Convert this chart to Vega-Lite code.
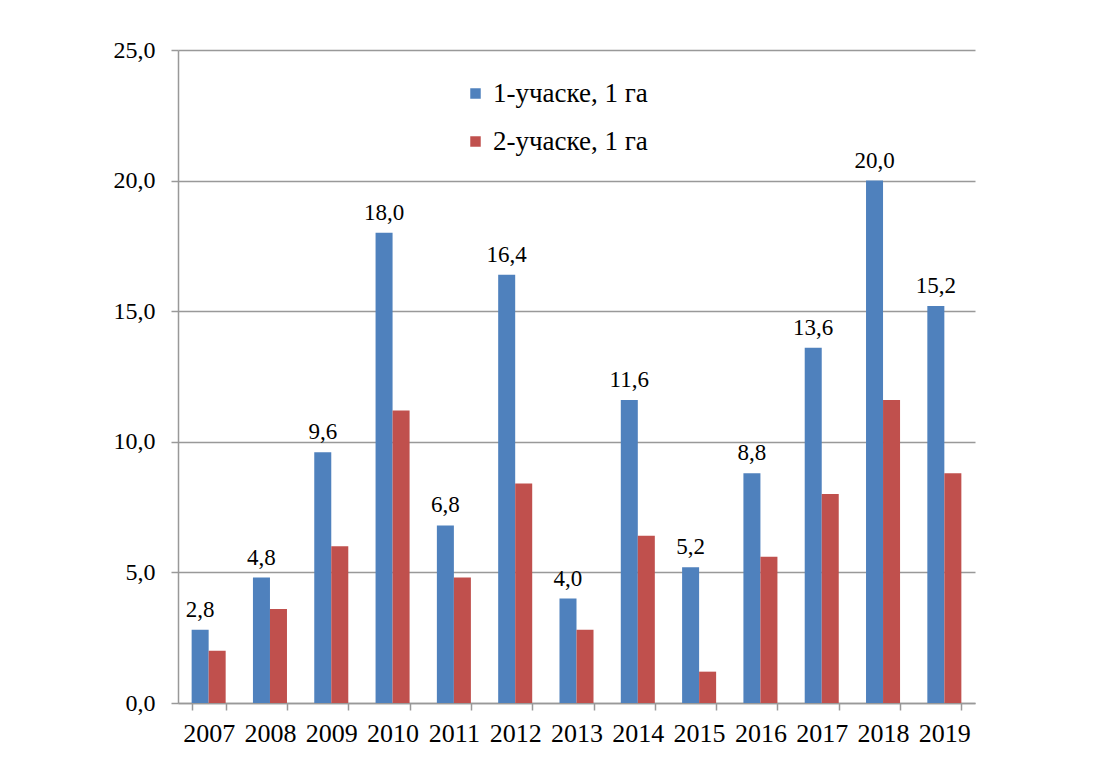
{
  "$schema": "https://vega.github.io/schema/vega-lite/v6.json",
  "width": 797,
  "height": 653,
  "autosize": {"type": "none"},
  "padding": {"left": 178, "top": 50, "right": 131, "bottom": 56},
  "background": "white",
  "config": {
    "locale": {"number": {"decimal": ",", "thousands": " ", "grouping": [3], "currency": ["", ""]}},
    "font": "Liberation Serif",
    "axis": {"labelFont": "Liberation Serif"},
    "legend": {"labelFont": "Liberation Serif"},
    "text": {"font": "Liberation Serif"},
    "view": {"stroke": null}
  },
  "data": {
    "values": [
      {"year": "2007", "series": "1-учаске, 1 га", "value": 2.8},
      {"year": "2007", "series": "2-учаске, 1 га", "value": 2.0},
      {"year": "2008", "series": "1-учаске, 1 га", "value": 4.8},
      {"year": "2008", "series": "2-учаске, 1 га", "value": 3.6},
      {"year": "2009", "series": "1-учаске, 1 га", "value": 9.6},
      {"year": "2009", "series": "2-учаске, 1 га", "value": 6.0},
      {"year": "2010", "series": "1-учаске, 1 га", "value": 18.0},
      {"year": "2010", "series": "2-учаске, 1 га", "value": 11.2},
      {"year": "2011", "series": "1-учаске, 1 га", "value": 6.8},
      {"year": "2011", "series": "2-учаске, 1 га", "value": 4.8},
      {"year": "2012", "series": "1-учаске, 1 га", "value": 16.4},
      {"year": "2012", "series": "2-учаске, 1 га", "value": 8.4},
      {"year": "2013", "series": "1-учаске, 1 га", "value": 4.0},
      {"year": "2013", "series": "2-учаске, 1 га", "value": 2.8},
      {"year": "2014", "series": "1-учаске, 1 га", "value": 11.6},
      {"year": "2014", "series": "2-учаске, 1 га", "value": 6.4},
      {"year": "2015", "series": "1-учаске, 1 га", "value": 5.2},
      {"year": "2015", "series": "2-учаске, 1 га", "value": 1.2},
      {"year": "2016", "series": "1-учаске, 1 га", "value": 8.8},
      {"year": "2016", "series": "2-учаске, 1 га", "value": 5.6},
      {"year": "2017", "series": "1-учаске, 1 га", "value": 13.6},
      {"year": "2017", "series": "2-учаске, 1 га", "value": 8.0},
      {"year": "2018", "series": "1-учаске, 1 га", "value": 20.0},
      {"year": "2018", "series": "2-учаске, 1 га", "value": 11.6},
      {"year": "2019", "series": "1-учаске, 1 га", "value": 15.2},
      {"year": "2019", "series": "2-учаске, 1 га", "value": 8.8}
    ]
  },
  "encoding": {
    "x": {
      "field": "year", "type": "nominal", "title": null,
      "scale": {"paddingInner": 0.445, "paddingOuter": 0.2225},
      "axis": {
        "labelAngle": 0, "labelFontSize": 26, "labelColor": "black", "labelPadding": 10,
        "labelFont": "Liberation Serif",
        "tickBand": "extent", "tickSize": 7, "tickColor": "#999999", "tickWidth": 1.5,
        "domainColor": "#999999", "domainWidth": 1.5, "grid": false
      }
    },
    "xOffset": {"field": "series", "type": "nominal", "scale": {"domain": ["1-учаске, 1 га", "2-учаске, 1 га"]}},
    "y": {
      "field": "value", "type": "quantitative", "title": null,
      "scale": {"domain": [0, 25]},
      "axis": {
        "values": [0, 5, 10, 15, 20, 25], "format": ".1f",
        "labelFont": "Liberation Serif",
        "labelFontSize": 24, "labelColor": "black", "labelPadding": 16,
        "tickSize": 7, "tickColor": "#999999", "tickWidth": 1.5,
        "domainColor": "#999999", "domainWidth": 1.5,
        "grid": true, "gridColor": "#999999", "gridWidth": 1.5
      }
    }
  },
  "layer": [
    {
      "mark": {"type": "bar"},
      "encoding": {
        "color": {
          "field": "series", "type": "nominal",
          "scale": {"domain": ["1-учаске, 1 га", "2-учаске, 1 га"], "range": ["#4F81BD", "#C0504D"]},
          "legend": {
            "title": null, "orient": "none", "legendX": 284, "legendY": 30,
            "symbolType": "square", "symbolSize": 110, "symbolStrokeWidth": 0,
            "labelFont": "Liberation Serif",
            "labelFontSize": 27, "labelColor": "black", "labelOffset": 4,
            "rowPadding": 20, "padding": 0
          }
        }
      }
    },
    {
      "transform": [{"filter": "datum.series === '1-учаске, 1 га'"}],
      "mark": {"type": "text", "font": "Liberation Serif", "fontSize": 23, "color": "black", "baseline": "bottom", "dy": -8},
      "encoding": {
        "text": {"field": "value", "type": "quantitative", "format": ".1f"}
      }
    }
  ]
}
